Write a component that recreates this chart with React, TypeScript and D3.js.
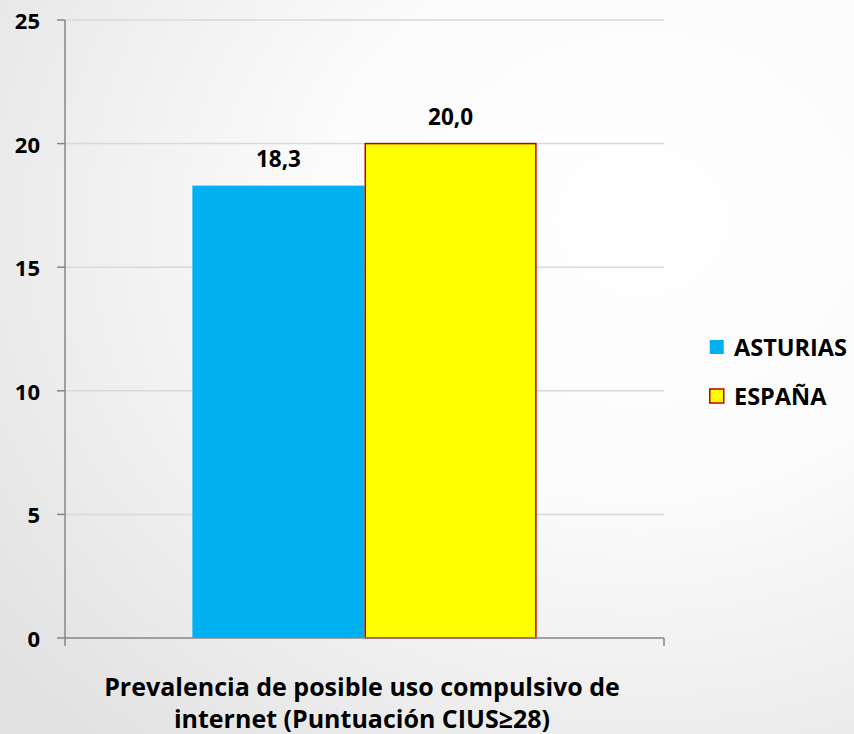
import React from "react";
import * as d3 from "d3";

const categories = ["Prevalencia de posible uso compulsivo de internet (Puntuación CIUS≥28)"];
const seriesNames = ["ASTURIAS", "ESPAÑA"];
const seriesValues = [18.3, 20.0];
const seriesColors = ["#00b0f0", "#ffff00"];
const seriesStroke = ["none", "#c00000"];
const yTicks = [0, 5, 10, 15, 20, 25];
const titleLines = ["Prevalencia de posible uso compulsivo de", "internet (Puntuación CIUS≥28)"];

const W = 854;
const H = 734;
const FONT = "'Open Sans', 'Noto Sans', sans-serif";

export default function App() {
  const left = 65, right = 664, top = 20, bottom = 638;
  const y = d3.scaleLinear().domain([0, 25]).range([bottom, top]);
  const x0 = d3.scaleBand().domain(categories).range([left, right]).paddingInner(0).paddingOuter(0.37);
  const x1 = d3.scaleBand().domain(seriesNames).range([0, x0.bandwidth()]).padding(0);
  const fmt = (v: number) => v.toFixed(1).replace(".", ",");

  return (
    <svg width={W} height={H} style={{ position: "absolute", left: 0, top: 0 }}>
      <defs>
        <radialGradient id="bg" cx="0.75" cy="0.3" r="0.95">
          <stop offset="0" stopColor="#ffffff" />
          <stop offset="0.4" stopColor="#fbfbfb" />
          <stop offset="1" stopColor="#e2e2e2" />
        </radialGradient>
      </defs>
      <rect x={0} y={0} width={W} height={H} fill="url(#bg)" />
      {yTicks.map((t) => (
        <g key={t}>
          {t > 0 && (
            <line x1={left} x2={right} y1={y(t)} y2={y(t)} stroke="#d9d9d9" strokeWidth={1.5} />
          )}
          <line x1={left - 8} x2={left} y1={y(t)} y2={y(t)} stroke="#868686" strokeWidth={1.5} />
          <text x={40} y={y(t)} textAnchor="end" dominantBaseline="central" fontFamily={FONT} fontWeight="bold" fontSize={22} fill="#000">
            {t}
          </text>
        </g>
      ))}
      {categories.map((c) => (
        <g key={c} transform={`translate(${x0(c)},0)`}>
          {seriesNames.map((s, i) => {
            const v = seriesValues[i];
            const bx = x1(s)!;
            const bw = x1.bandwidth();
            return (
              <g key={s}>
                <rect
                  x={bx + (seriesStroke[i] !== "none" ? 0.75 : 0)}
                  y={y(v)}
                  width={bw - (seriesStroke[i] !== "none" ? 1.5 : 0)}
                  height={bottom - y(v)}
                  fill={seriesColors[i]}
                  stroke={seriesStroke[i]}
                  strokeWidth={1.5}
                />
                <text x={bx + bw / 2} y={y(v) - 27} textAnchor="middle" dominantBaseline="central" fontFamily={FONT} fontWeight="bold" fontSize={22.5} fill="#000">
                  {fmt(v)}
                </text>
              </g>
            );
          })}
        </g>
      ))}
      <line x1={left} x2={left} y1={top} y2={bottom + 8} stroke="#868686" strokeWidth={1.5} />
      <line x1={left} x2={right} y1={bottom} y2={bottom} stroke="#868686" strokeWidth={1.5} />
      <line x1={right} x2={right} y1={bottom} y2={bottom + 8} stroke="#868686" strokeWidth={1.5} />
      {titleLines.map((l, i) => (
        <text key={i} x={362} y={686 + i * 32} textAnchor="middle" dominantBaseline="central" fontFamily={FONT} fontWeight="bold" fontSize={25} fill="#000">
          {l}
        </text>
      ))}
      {seriesNames.map((s, i) => (
        <g key={s} transform={`translate(709,${347 + i * 49})`}>
          <rect x={0.75} y={-7} width={14} height={14} fill={seriesColors[i]} stroke={seriesStroke[i]} strokeWidth={1.5} />
          <text x={25} y={0} dominantBaseline="central" fontFamily={FONT} fontWeight="bold" fontSize={23.5} fill="#000">
            {s}
          </text>
        </g>
      ))}
    </svg>
  );
}
